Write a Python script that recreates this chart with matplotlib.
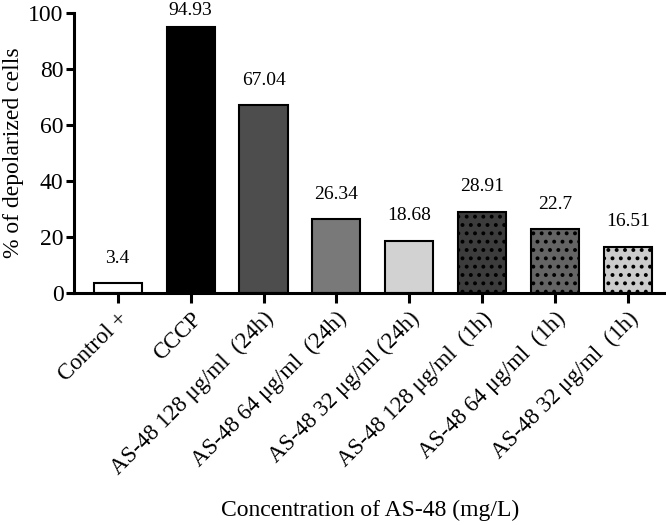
import numpy as np
import matplotlib.pyplot as plt

plt.rcParams["font.family"] = ["Liberation Serif", "DejaVu Serif"]
plt.rcParams["hatch.color"] = "black"
plt.rcParams["hatch.linewidth"] = 1.6

# Data
labels = [
    "Control +",
    "CCCP",
    "AS-48 128 μg/ml  (24h)",
    "AS-48 64 μg/ml  (24h)",
    "AS-48 32 μg/ml (24h)",
    "AS-48 128 μg/ml  (1h)",
    "AS-48 64 μg/ml  (1h)",
    "AS-48 32 μg/ml  (1h)",
]
values = [3.4, 94.93, 67.04, 26.34, 18.68, 28.91, 22.7, 16.51]
value_text = ["3.4", "94.93", "67.04", "26.34", "18.68", "28.91", "22.7", "16.51"]
yticks = [0, 20, 40, 60, 80, 100]

colors = ["white", "black", "#4d4d4d", "#797979", "#d2d2d2", "#3c3c3c", "#646464", "#cdcdcd"]
hatches = ["", "", "", "", "", "..", "..", ".."]
offsets = [12, 6, 12, 12, 12, 12, 12, 12]

fig = plt.figure(figsize=(6.66, 5.25), dpi=100)
ax = fig.add_axes([0.111, 0.442, 0.889, 0.533])

x = np.arange(len(values))
bars = ax.bar(x, values, width=0.66, color=colors, edgecolor="black", linewidth=1.5)
for bar, h in zip(bars, hatches):
    bar.set_hatch(h)

for xi, v, t, off in zip(x, values, value_text, offsets):
    ax.annotate(t, (xi, v), xytext=(0, off), textcoords="offset points",
                ha="center", va="bottom", fontsize=14, clip_on=False)

ax.set_xlim(-0.6, 7.52)
ax.set_ylim(0, 100)
ax.set_yticks(yticks)
ax.set_yticklabels([str(t) for t in yticks], fontsize=17)
ax.set_xticks(x)
ax.set_xticklabels(labels, rotation=45, ha="right", rotation_mode="anchor", fontsize=16.5)

for s in ["top", "right"]:
    ax.spines[s].set_visible(False)
for s in ["left", "bottom"]:
    ax.spines[s].set_linewidth(2.2)
ax.tick_params(axis="both", width=2.2, direction="out")
ax.tick_params(axis="y", length=6, pad=1.5)
ax.tick_params(axis="x", length=7, pad=4)

ax.set_ylabel("% of depolarized cells", fontsize=17)
ax.yaxis.set_label_coords(-0.084, 0.5)
ax.set_xlabel("Concentration of AS-48 (mg/L)", fontsize=17)
ax.xaxis.set_label_coords(0.5, -0.74)

fig.savefig("out.png", dpi=100)
